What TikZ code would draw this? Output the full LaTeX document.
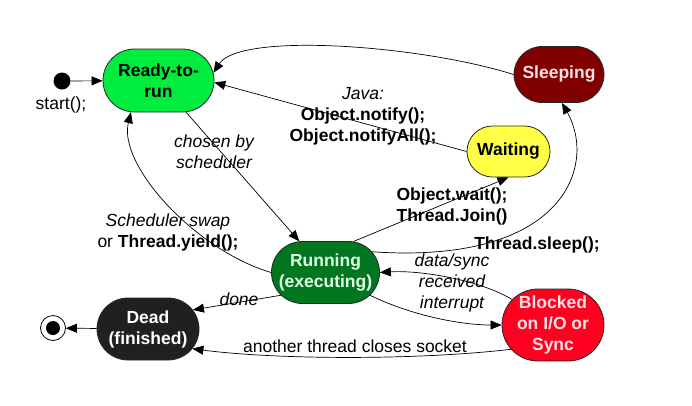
\documentclass[tikz,border=0pt]{standalone}
\usepackage{fontspec}
\setmainfont{Liberation Sans}
\usetikzlibrary{arrows.meta}
\usetikzlibrary{shapes.misc}

\definecolor{readyc}{RGB}{0,236,62}
\definecolor{sleepc}{RGB}{128,0,0}
\definecolor{waitc}{RGB}{255,255,70}
\definecolor{runc}{RGB}{0,118,32}
\definecolor{deadc}{RGB}{32,32,32}
\definecolor{blockc}{RGB}{255,0,32}
\definecolor{pinktxt}{RGB}{255,226,226}
\definecolor{greentxt}{RGB}{226,255,226}

\tikzset{
    state/.style={rounded rectangle, draw=black!85, line width=0.8pt, font=\fontsize{17.5}{21}\selectfont\bfseries, align=center, inner sep=1pt},
    lbl/.style={align=center, inner sep=0pt, font=\fontsize{17.5}{21}\selectfont},
    tr/.style={-{Triangle[length=11pt,width=9pt]}, line width=0.7pt}
}

\begin{document}
\begin{tikzpicture}[x=1pt,y=-1pt]
    \useasboundingbox (0,0) rectangle (692,405);
    \node[circle, fill=black, inner sep=0pt, minimum size=17pt] (start) at (62,81) {};
    \node[circle, draw=black, line width=0.8pt, inner sep=0pt, minimum size=25pt] (end) at (53,328) {};
    \fill (end) circle (7pt);

    \node[state, fill=readyc, minimum width=113pt, minimum height=63pt] (ready) at (158.5,80.5) {Ready-to-\\run};
    \node[state, fill=sleepc, text=pinktxt, minimum width=92pt, minimum height=56pt] (sleep) at (559,74.5) {Sleeping};
    \node[state, fill=waitc, minimum width=85pt, minimum height=51pt] (wait) at (508.5,151.5) {Waiting};
    \node[state, fill=runc, text=greentxt, minimum width=110pt, minimum height=62pt] (run) at (325.5,272.5) {Running\\(executing)};
    \node[state, fill=deadc, text=white, minimum width=104pt, minimum height=62pt] (dead) at (148,329) {Dead\\(finished)};
    \node[state, fill=blockc, text=pinktxt, minimum width=104pt, minimum height=72pt] (block) at (553,325) {Blocked\\on I/O or\\Sync};

    \draw[tr] (start) -- (ready);
    \draw[tr] (sleep.west) .. controls (420,45) and (240,32) .. (ready.8);
    \draw[tr] (wait.west) -- (ready.-2);
    \draw[tr] (ready.-49) -- (run.130);
    \draw[tr] (run.west) .. controls (195,250) and (118,165) .. (ready.-131);
    \draw[tr] (run.48) -- (wait.south);
    \draw[tr] (run.24) .. controls (565,265) and (597,165) .. (sleep.-84);
    \draw[tr] (block.148) .. controls (480,280) and (420,270) .. (run.east);
    \draw[tr] (run.-27) .. controls (410,315) and (460,325) .. (block.west);
    \draw[tr] (run.207) -- (dead.23);
    \draw[tr] (block.210) .. controls (420,360) and (280,360) .. (dead.-24);
    \draw[tr] (dead) -- (end);

    \node[lbl] (startlbl) at (61,105) {start();};
    \node[lbl] (java) at (363,116.5) {\itshape Java:\\\bfseries Object.notify();\\\bfseries Object.notifyAll();};
    \node[lbl] (chosen) at (214,151.5) {\itshape chosen by\\\itshape scheduler};
    \node[lbl] (swap) at (168,232.5) {\itshape Scheduler swap\\or \textbf{Thread.yield();}};
    \node[lbl, font=\fontsize{17.5}{21}\selectfont\bfseries] (waitlbl) at (452,206) {Object.wait();\\Thread.Join()};
    \node[lbl, font=\fontsize{17.5}{21}\selectfont\bfseries] (sleeplbl) at (537,245) {Thread.sleep();};
    \node[lbl, font=\fontsize{17.5}{21}\selectfont\itshape] (datasync) at (452,282.5) {data/sync\\received\\interrupt};
    \node[lbl, font=\fontsize{17.5}{21}\selectfont\itshape] (done) at (239,299) {done};
    \node[lbl] (socket) at (355,346) {another thread closes socket};
\end{tikzpicture}
\end{document}
